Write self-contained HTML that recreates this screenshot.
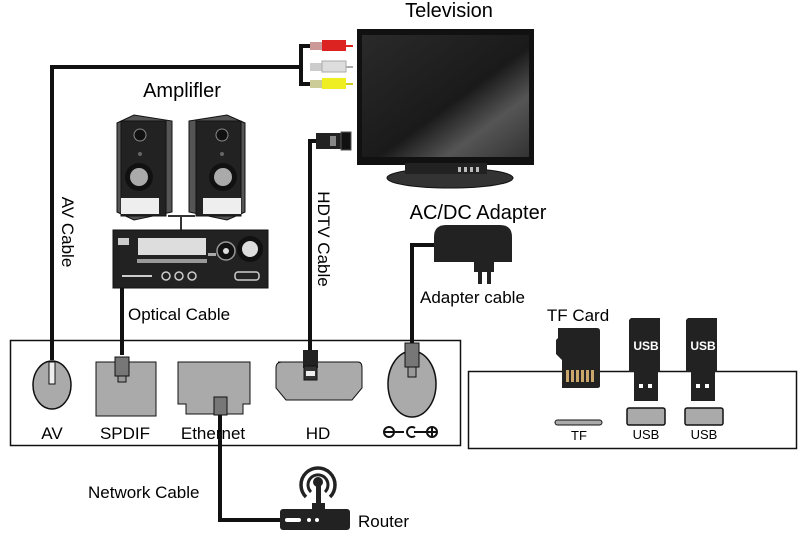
<!DOCTYPE html>
<html><head><meta charset="utf-8"><style>
html,body{margin:0;padding:0;background:#fff;}
svg{display:block;font-family:"Liberation Sans",Arial,sans-serif;}
</style></head><body>
<svg width="805" height="538" viewBox="0 0 805 538" xmlns="http://www.w3.org/2000/svg">
<defs>
<linearGradient id="scr" x1="0" y1="0" x2="1" y2="1">
<stop offset="0" stop-color="#2a2a2a"/><stop offset="0.55" stop-color="#1a1a1a"/><stop offset="0.75" stop-color="#555"/><stop offset="1" stop-color="#333"/>
</linearGradient>
</defs>
<!-- labels -->
<text x="449" y="17" font-size="20" text-anchor="middle">Television</text>
<text x="182" y="97" font-size="20" text-anchor="middle">Amplifler</text>
<text x="478" y="219" font-size="20" text-anchor="middle">AC/DC Adapter</text>
<text x="420" y="303" font-size="17">Adapter cable</text>
<text x="128" y="320" font-size="17">Optical Cable</text>
<text x="578" y="321" font-size="17" text-anchor="middle">TF Card</text>
<text x="88" y="498" font-size="17">Network Cable</text>
<text x="358" y="527" font-size="17">Router</text>
<text transform="translate(62,232) rotate(90)" font-size="17" text-anchor="middle">AV Cable</text>
<text transform="translate(318,239) rotate(90)" font-size="17" text-anchor="middle">HDTV Cable</text>

<!-- TV -->
<rect x="357" y="29" width="177" height="136" fill="#111"/>
<rect x="362" y="35" width="167" height="122" fill="url(#scr)"/>
<rect x="405" y="163" width="82" height="12" fill="#222"/>
<ellipse cx="450" cy="178" rx="63" ry="10" fill="#333" stroke="#111"/>
<rect x="405" y="163" width="82" height="11" fill="#222"/>
<g fill="#bbb"><rect x="458" y="167" width="3" height="5"/><rect x="464" y="167" width="3" height="5"/><rect x="470" y="167" width="3" height="5"/><rect x="476" y="167" width="3" height="5"/></g>

<!-- RCA -->
<path d="M310,46 H301 V84 H310 M52,67 H301" fill="none" stroke="#111" stroke-width="4"/>
<path d="M52,65 V360" stroke="#111" stroke-width="4" fill="none"/>
<rect x="310" y="42" width="22" height="8" fill="#c99"/><rect x="322" y="40" width="24" height="11" fill="#d22"/><rect x="346" y="45" width="7" height="2" fill="#d22"/>
<rect x="310" y="63" width="22" height="8" fill="#ccc"/><rect x="322" y="61" width="24" height="11" fill="#ddd" stroke="#aaa"/><rect x="346" y="66" width="7" height="2" fill="#aaa"/>
<rect x="310" y="80" width="22" height="8" fill="#cc9"/><rect x="322" y="78" width="24" height="11" fill="#ee2"/><rect x="346" y="83" width="7" height="2" fill="#cc2"/>

<!-- HDMI plug at TV -->
<path d="M310,345 V141 H318" fill="none" stroke="#111" stroke-width="4"/>
<rect x="316" y="133" width="28" height="16" fill="#222"/>
<rect x="330" y="136" width="6" height="10" fill="#888"/>
<rect x="341" y="132" width="10" height="18" fill="#111" stroke="#555"/>

<!-- speakers -->
<g>
<path d="M117,123 L134,115 L172,121 L172,212 L134,220 L117,212 Z" fill="#555" stroke="#111"/>
<rect x="121" y="121" width="45" height="95" fill="#222" stroke="#111"/>
<circle cx="140" cy="135" r="6" fill="#111" stroke="#888"/><circle cx="140" cy="154" r="2" fill="#666"/>
<circle cx="139" cy="177" r="14" fill="#111"/><circle cx="139" cy="177" r="9" fill="#aaa"/>
<rect x="121" y="198" width="38" height="16" fill="#eee"/>
<path d="M189,121 L227,115 L245,123 L245,212 L227,220 L189,212 Z" fill="#555" stroke="#111"/>
<rect x="196" y="121" width="45" height="95" fill="#222" stroke="#111"/>
<circle cx="222" cy="135" r="6" fill="#111" stroke="#888"/><circle cx="222" cy="154" r="2" fill="#666"/>
<circle cx="223" cy="177" r="14" fill="#111"/><circle cx="223" cy="177" r="9" fill="#aaa"/>
<rect x="203" y="198" width="38" height="16" fill="#eee"/>
<path d="M168,216 H195 M181,216 V230" stroke="#333" stroke-width="2"/>
</g>
<!-- amplifier -->
<rect x="113" y="230" width="155" height="58" fill="#222" stroke="#111"/>
<rect x="118" y="238" width="11" height="7" fill="#ccc"/>
<rect x="138" y="238" width="68" height="17" fill="#ddd"/>
<rect x="208" y="253" width="8" height="3" fill="#aaa"/>
<circle cx="226" cy="251" r="9" fill="#111" stroke="#999" stroke-width="1.5"/><circle cx="226" cy="251" r="3" fill="#ddd"/>
<circle cx="250" cy="249" r="13" fill="#111"/><circle cx="250" cy="249" r="8" fill="#ddd"/>
<rect x="137" y="259" width="70" height="4" fill="#999"/>
<rect x="122" y="275" width="30" height="2" fill="#ccc"/>
<circle cx="166" cy="276" r="4" fill="none" stroke="#ccc" stroke-width="1.5"/><circle cx="179" cy="276" r="4" fill="none" stroke="#ccc" stroke-width="1.5"/><circle cx="192" cy="276" r="4" fill="none" stroke="#ccc" stroke-width="1.5"/>
<rect x="235" y="272" width="24" height="8" rx="3" fill="none" stroke="#ccc" stroke-width="1.5"/>
<path d="M122,288 V355" stroke="#111" stroke-width="4"/>

<!-- adapter -->
<path d="M434,237 Q434,225 446,225 H500 Q512,225 512,237 V262 H434 Z" fill="#222"/>
<rect x="474" y="262" width="20" height="10" fill="#222"/>
<rect x="478" y="272" width="4" height="12" fill="#222"/><rect x="487" y="272" width="4" height="12" fill="#222"/>
<path d="M434,245 H412 V345" fill="none" stroke="#111" stroke-width="4"/>

<!-- left box -->
<rect x="10.5" y="340.5" width="450" height="105" fill="none" stroke="#111" stroke-width="1.5"/>
<ellipse cx="52" cy="385" rx="19" ry="24" fill="#aaa" stroke="#111" stroke-width="1.5"/>
<rect x="49" y="362" width="6" height="22" fill="#eee" stroke="#111"/>
<rect x="96" y="362" width="60" height="54" fill="#aaa" stroke="#111"/>
<rect x="115" y="357" width="14" height="19" fill="#777" stroke="#111"/>
<rect x="118" y="376" width="8" height="6" fill="#999" stroke="#111"/>
<path d="M178,362 H250 V404 H243 V414 H186 V404 H178 Z" fill="#aaa" stroke="#111"/>
<path d="M220,402 V520 H280" fill="none" stroke="#111" stroke-width="4"/>
<rect x="214" y="397" width="13" height="18" fill="#777" stroke="#111"/>
<path d="M278,362 H358 Q362,362 362,368 V388 L352,400 H286 L276,388 V368 Q276,362 282,362 Z" fill="#aaa" stroke="#111"/>
<path d="M310,345 V352" stroke="#111" stroke-width="4"/>
<rect x="303" y="350" width="15" height="18" fill="#222"/>
<rect x="304" y="366" width="13" height="14" fill="#333" stroke="#111"/>
<rect x="306" y="371" width="9" height="5" fill="#eee"/>
<ellipse cx="412" cy="384" rx="24" ry="33" fill="#aaa" stroke="#111" stroke-width="1.5"/>
<rect x="405" y="343" width="14" height="24" fill="#777" stroke="#111"/>
<rect x="408" y="367" width="8" height="10" fill="#999" stroke="#111"/>
<g font-size="17" text-anchor="middle">
<text x="52" y="439">AV</text><text x="125" y="439">SPDIF</text><text x="213" y="439">Ethernet</text><text x="318" y="439">HD</text>
</g>
<g stroke="#111" stroke-width="2" fill="none">
<circle cx="389" cy="432" r="5"/><path d="M385,432 H393 M394,432 H404"/>
<path d="M415,428 A5,5 0 1,0 415,436"/><path d="M414,432 H427"/>
<circle cx="432" cy="432" r="5"/><path d="M428,432 H436 M432,428 V436"/>
</g>

<!-- router -->
<rect x="280" y="509" width="70" height="21" rx="3" fill="#222"/>
<rect x="285" y="518" width="16" height="4" rx="2" fill="#fff"/>
<circle cx="309" cy="520" r="2" fill="#fff"/><circle cx="317" cy="520" r="2" fill="#fff"/>
<rect x="312" y="503" width="13" height="6" fill="#222"/>
<rect x="316" y="480" width="5" height="25" fill="#222"/>
<circle cx="318" cy="482" r="5" fill="#222"/>
<path d="M311,492 A10,10 0 1,1 325,492" fill="none" stroke="#222" stroke-width="3"/>
<path d="M306,497 A17,17 0 1,1 330,497" fill="none" stroke="#222" stroke-width="3.5"/>

<!-- right box -->
<rect x="468.5" y="371.5" width="328" height="77" fill="none" stroke="#111" stroke-width="1.5"/>
<path d="M558,328 H597 Q600,328 600,331 V386 Q600,388 597,388 H562 V360 L556,354 V340 L558,338 Z" fill="#222"/>
<g fill="#c9a66b"><rect x="566" y="370" width="3" height="12"/><rect x="571" y="370" width="3" height="12"/><rect x="576" y="370" width="3" height="12"/><rect x="581" y="370" width="3" height="12"/><rect x="586" y="370" width="3" height="12"/><rect x="591" y="370" width="3" height="12"/></g>
<g>
<path d="M631,318 H660 V372 H629 V320 Z" fill="#222"/><rect x="634" y="372" width="24" height="29" fill="#222"/>
<rect x="639" y="384" width="4" height="4" fill="#fff"/><rect x="648" y="384" width="4" height="4" fill="#fff"/>
<text x="646" y="350" font-size="12" font-weight="bold" fill="#fff" text-anchor="middle">USB</text>
<path d="M688,318 H717 V372 H686 V320 Z" fill="#222"/><rect x="691" y="372" width="24" height="29" fill="#222"/>
<rect x="696" y="384" width="4" height="4" fill="#fff"/><rect x="705" y="384" width="4" height="4" fill="#fff"/>
<text x="703" y="350" font-size="12" font-weight="bold" fill="#fff" text-anchor="middle">USB</text>
</g>
<rect x="555" y="420" width="47" height="5" rx="2.5" fill="#aaa" stroke="#111"/>
<rect x="627" y="408" width="38" height="17" rx="2" fill="#aaa" stroke="#111" stroke-width="1.5"/>
<rect x="685" y="408" width="38" height="17" rx="2" fill="#aaa" stroke="#111" stroke-width="1.5"/>
<g font-size="13" text-anchor="middle"><text x="579" y="440">TF</text><text x="646" y="439">USB</text><text x="704" y="439">USB</text></g>
</svg>
</body></html>
